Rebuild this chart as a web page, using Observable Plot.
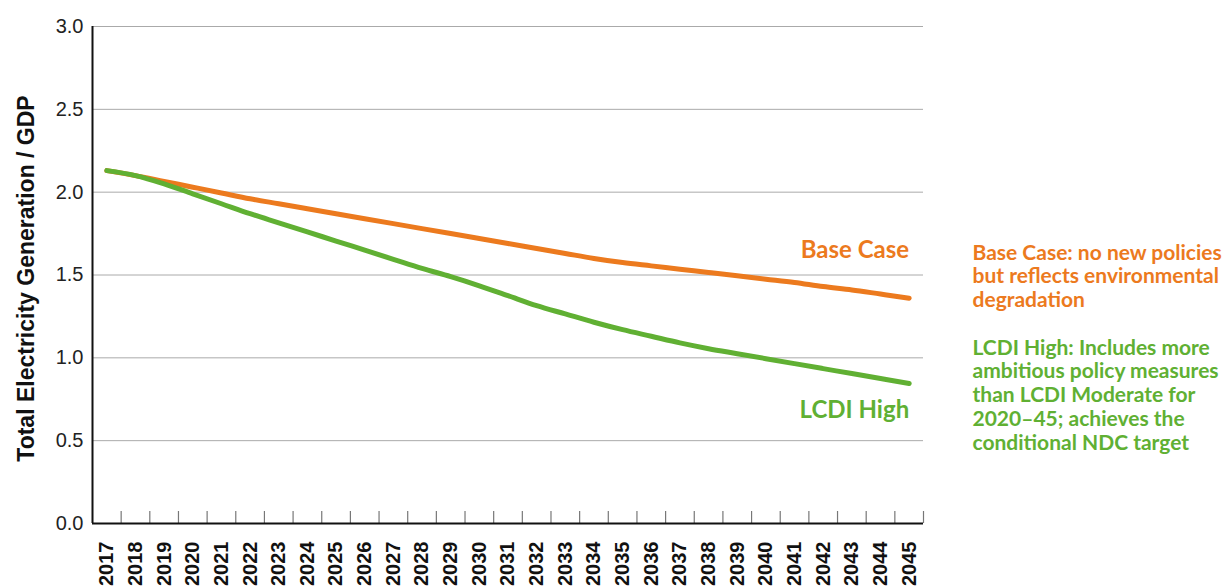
<!DOCTYPE html>
<html>
<head>
<meta charset="utf-8">
<script src="https://cdn.jsdelivr.net/npm/d3@7"></script>
<script src="https://cdn.jsdelivr.net/npm/@observablehq/plot@0.6"></script>
<style>
  html, body { margin: 0; padding: 0; background: #fff; }
  #chart { width: 1226px; height: 588px; overflow: hidden; }
</style>
</head>
<body>
<div id="chart"></div>
<script>
const years = [2017, 2018, 2019, 2020, 2021, 2022, 2023, 2024, 2025, 2026, 2027, 2028, 2029, 2030,
  2031, 2032, 2033, 2034, 2035, 2036, 2037, 2038, 2039, 2040, 2041, 2042, 2043, 2044, 2045];
const baseCase = [2.13, 2.10, 2.065, 2.03, 1.995, 1.96, 1.93, 1.90, 1.87, 1.84, 1.81, 1.78, 1.75, 1.72,
  1.69, 1.66, 1.63, 1.60, 1.575, 1.555, 1.535, 1.515, 1.495, 1.475, 1.455, 1.43, 1.41, 1.385, 1.36];
const lcdiHigh = [2.13, 2.10, 2.05, 1.99, 1.93, 1.87, 1.815, 1.76, 1.705, 1.65, 1.595, 1.54, 1.49, 1.435,
  1.375, 1.315, 1.265, 1.215, 1.17, 1.13, 1.09, 1.055, 1.025, 0.995, 0.965, 0.935, 0.905, 0.875, 0.845];
const seriesNames = ["Base Case", "LCDI High"];
const seriesColors = ["#EC7A1E", "#60B033"];
const yTicks = [0, 0.5, 1.0, 1.5, 2.0, 2.5, 3.0];
const yTitle = "Total Electricity Generation / GDP";
const baseNote = "Base Case: no new policies\nbut reflects environmental\ndegradation";
const highNote = "LCDI High: Includes more\nambitious policy measures\nthan LCDI Moderate for\n2020–45; achieves the\nconditional NDC target";

const data = [
  ...years.map((year, i) => ({year, value: baseCase[i], series: seriesNames[0]})),
  ...years.map((year, i) => ({year, value: lcdiHigh[i], series: seriesNames[1]}))
];
const boundaries = years.map(y => y + 0.5);
const xDomain = [years[0] - 0.5, years[years.length - 1] + 0.5];

const chart = Plot.plot({
  width: 1226,
  height: 588,
  marginLeft: 92,
  marginRight: 303,
  marginTop: 26,
  marginBottom: 65,
  style: {fontFamily: "'Liberation Sans', Arial, sans-serif", background: "#fff", color: "#111"},
  x: {domain: xDomain},
  y: {domain: [0, 3]},
  color: {domain: seriesNames, range: seriesColors},
  marks: [
    Plot.gridY(yTicks, {stroke: "#aaaaaa", strokeOpacity: 1, strokeWidth: 1}),
    Plot.axisY(yTicks, {tickSize: 0, tickPadding: 9, tickFormat: d => d.toFixed(1), fontSize: 20,
      fontWeight: "normal", fill: "#222", label: null}),
    Plot.axisX(years, {tickSize: 0, tickPadding: 18, tickRotate: -90, tickFormat: d => String(d),
      fontSize: 20, fontWeight: "bold", label: null}),
    Plot.tickX(boundaries, {x: d => d, insetTop: 485, stroke: "#777", strokeWidth: 1.2}),
    Plot.ruleY([0], {stroke: "#111", strokeWidth: 2}),
    Plot.ruleX([xDomain[0]], {stroke: "#111", strokeWidth: 2}),
    Plot.line(data, {x: "year", y: "value", stroke: "series", z: "series", strokeWidth: 5,
      strokeLinecap: "round", strokeLinejoin: "round", curve: "monotone-x"}),
    Plot.text(data.filter(d => d.series === seriesNames[0]), Plot.selectLast({x: "year", y: "value",
      text: "series", fill: "series", textAnchor: "end", lineAnchor: "bottom", dy: -40,
      fontFamily: "Lato", fontWeight: "bold", fontSize: 24})),
    Plot.text(data.filter(d => d.series === seriesNames[1]), Plot.selectLast({x: "year", y: "value",
      text: "series", fill: "series", textAnchor: "end", lineAnchor: "bottom", dy: 34,
      fontFamily: "Lato", fontWeight: "bold", fontSize: 24})),
    Plot.text([yTitle], {text: d => d, frameAnchor: "left", textAnchor: "middle", dx: -66, dy: 3.5, rotate: -90,
      fontSize: 23, fontWeight: "bold", fill: "#111"}),
    Plot.text([baseNote], {text: d => d, frameAnchor: "top-right", textAnchor: "start", lineAnchor: "top",
      dx: 49, dy: 216, fontFamily: "Lato", fontWeight: "bold", fontSize: 21, lineHeight: 1.14,
      fill: seriesColors[0]}),
    Plot.text([highNote], {text: d => d, frameAnchor: "top-right", textAnchor: "start", lineAnchor: "top",
      dx: 49, dy: 311, fontFamily: "Lato", fontWeight: "bold", fontSize: 21, lineHeight: 1.14,
      fill: seriesColors[1]})
  ]
});
document.getElementById("chart").appendChild(chart);
</script>
</body>
</html>
